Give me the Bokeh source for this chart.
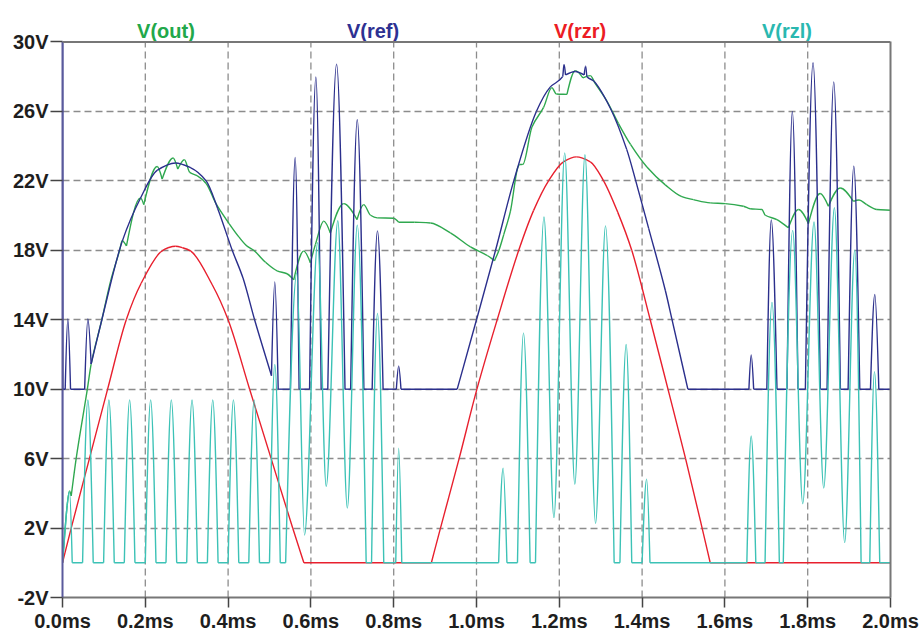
from bokeh.plotting import figure
from bokeh.models import Range1d, FixedTicker, PrintfTickFormatter, LinearAxis, Span
from bokeh.core.properties import value
from bokeh.embed import file_html
from bokeh.resources import INLINE

# ---------------- data (time in ms, voltage in V) ----------------
out_t = [0, 0.0113, 0.0169, 0.021, 0.033, 0.060, 0.0692, 0.095, 0.1159, 0.138,
         0.1441, 0.1545, 0.1883, 0.1963, 0.2286, 0.2407, 0.2672, 0.2784, 0.2945, 0.3074,
         0.325, 0.347, 0.3704, 0.4024, 0.4264, 0.4459, 0.4624, 0.4904, 0.5184, 0.5424,
         0.5585, 0.5826, 0.5987, 0.611, 0.631, 0.647, 0.679, 0.7114, 0.7275, 0.744,
         0.76, 0.80, 0.812, 0.85, 0.889, 0.937, 0.9855, 1.026, 1.0435, 1.0538,
         1.066, 1.082, 1.0996, 1.104, 1.112, 1.134, 1.162, 1.182, 1.193, 1.2185,
         1.2386, 1.257, 1.2747, 1.287, 1.3149, 1.343, 1.372, 1.4116, 1.456, 1.496,
         1.524, 1.5645, 1.6006, 1.645, 1.661, 1.6895, 1.6976, 1.7255, 1.7535, 1.7777,
         1.8018, 1.830, 1.85, 1.8783, 1.9104, 1.924, 1.9427, 1.967, 2.0]
out_v = [0, 3.3, 4.14, 3.85, 6.0, 10.0, 11.45, 14.0, 16.2, 18.0,
         18.55, 18.25, 21.02, 20.63, 22.83, 22.11, 23.32, 22.68, 23.22, 22.49,
         22.3, 21.85, 20.7, 19.54, 18.76, 18.24, 17.99, 17.31, 16.82, 16.65,
         16.3, 17.95, 17.29, 18.34, 19.68, 19.0, 20.69, 19.77, 20.63, 20.02,
         19.87, 19.85, 19.62, 19.62, 19.57, 19.0, 18.2, 17.7, 17.4, 17.97,
         18.92, 20.26, 22.75, 22.94, 22.95, 25.1, 26.23, 27.37, 27.0, 26.98,
         28.35, 27.93, 28.06, 27.6, 26.6, 25.3, 24.1, 22.8, 21.77, 21.09,
         20.92, 20.73, 20.69, 20.54, 20.39, 20.35, 20.02, 19.77, 19.3, 20.35,
         19.54, 21.27, 20.54, 21.59, 20.82, 20.9, 20.63, 20.35, 20.31]

ref_t = [0, 0, 0.0008, 0.0065, 0.0129, 0.0194, 0.0535, 0.0613, 0.0692, 0.095,
         0.144, 0.1883, 0.2286, 0.2728, 0.31, 0.347, 0.375, 0.41, 0.436, 0.464,
         0.5048, 0.5128, 0.521, 0.5504, 0.562, 0.5715, 0.5968, 0.612, 0.6248, 0.6408,
         0.662, 0.6824, 0.696, 0.712, 0.728, 0.748, 0.7608, 0.7744, 0.8064, 0.812,
         0.8176, 0.9534, 1.0, 1.046, 1.09, 1.1446, 1.178, 1.208, 1.2115, 1.215,
         1.2385, 1.26, 1.2635, 1.267, 1.283, 1.323, 1.363, 1.384, 1.416, 1.456,
         1.472, 1.5105, 1.658, 1.6635, 1.6695, 1.7013, 1.712, 1.7258, 1.75, 1.7629,
         1.7766, 1.7944, 1.8129, 1.8306, 1.8468, 1.8629, 1.879, 1.8976, 1.9113, 1.9258,
         1.9516, 1.9621, 1.9718, 2.0]
ref_v = [0, 30, 10, 10, 14.05, 10, 10, 14.05, 11.45, 14.0,
         18.5, 21.0, 22.6, 23.03, 22.75, 22.0, 20.4, 18.0, 16.4, 14.0,
         10.78, 16.18, 10, 10, 23.35, 10, 10, 27.98, 10, 10,
         28.72, 10, 10, 25.52, 10, 10, 19.12, 10, 10, 11.33,
         10, 10, 14.0, 18.0, 22.0, 26.0, 27.4, 28.0, 28.7, 28.1,
         28.3, 28.1, 28.6, 28.0, 27.75, 26.2, 23.8, 22.06, 19.25, 15.7,
         14.04, 10, 10, 11.97, 10, 10, 19.75, 10, 10, 26.0,
         10, 10, 28.8, 10, 10, 27.7, 10, 10, 22.85, 10,
         10, 15.45, 10, 10]

rzr_t = [0, 0.021, 0.065, 0.109, 0.154, 0.19, 0.237, 0.255, 0.273, 0.29,
         0.31, 0.362, 0.40, 0.452, 0.504, 0.556, 0.583, 0.891, 0.913, 0.958,
         1.001, 1.05, 1.102, 1.138, 1.174, 1.21, 1.241, 1.275, 1.307, 1.341,
         1.375, 1.4196, 1.4625, 1.505, 1.545, 1.5645, 2.0]
rzr_v = [0, 2, 6, 10, 14, 16.1, 17.9, 18.15, 18.23, 18.15,
         17.95, 16.0, 14.0, 10.0, 6.0, 2.0, 0, 0, 2, 6,
         10, 14, 18, 20.3, 22, 23.1, 23.38, 23.1, 22, 20.2,
         18, 14, 10, 6, 2, 0, 0]

rzl_t = [0, 0.017, 0.0235,
         0.0485, 0.0613, 0.0742, 0.0993, 0.1121, 0.1250, 0.1493, 0.1621, 0.1750,
         0.2000, 0.2129, 0.2258, 0.2500, 0.2629, 0.2758, 0.3000, 0.3129, 0.3258,
         0.3500, 0.3629, 0.3758, 0.4000, 0.4129, 0.4258, 0.4500, 0.4629, 0.4758,
         0.500, 0.5128, 0.526, 0.539, 0.566, 0.5845, 0.6165, 0.637, 0.665, 0.688,
         0.712, 0.7335, 0.7465, 0.7608, 0.776, 0.805, 0.812, 0.8195,
         1.0535, 1.0643, 1.0735, 1.099, 1.1135, 1.1295, 1.1425, 1.163, 1.187, 1.213,
         1.2375, 1.262, 1.2876, 1.3116, 1.3325, 1.3465, 1.3615, 1.375, 1.400, 1.411,
         1.419, 1.653, 1.6635, 1.6747, 1.697, 1.7137, 1.7315, 1.741, 1.7637, 1.788,
         1.8153, 1.8387, 1.8645, 1.8893, 1.9137, 1.929, 1.950, 1.9613, 1.974, 2.0]
rzl_v = [0, 4.1, 0,
         0, 9.38, 0, 0, 9.38, 0, 0, 9.38, 0,
         0, 9.38, 0, 0, 9.38, 0, 0, 9.38, 0,
         0, 9.38, 0, 0, 9.38, 0, 0, 9.38, 0,
         0, 11.42, 0, 0, 16.7, 1.6, 18.45, 4.4, 19.7, 3.15,
         19.45, 0, 0, 14.36, 0, 0, 6.6, 0,
         0, 5.45, 0, 0, 13.23, 0, 0, 19.92, 2.6, 23.61,
         4.52, 23.51, 2.28, 19.4, 0, 0, 12.57, 0, 0, 4.82,
         0, 0, 7.3, 0, 0, 15.0, 0, 0, 19.15, 3.41,
         19.64, 4.31, 20.45, 1.16, 18.0, 0, 0, 11.0, 0, 0]

x_ticks = [0.0, 0.2, 0.4, 0.6, 0.8, 1.0, 1.2, 1.4, 1.6, 1.8, 2.0]
y_ticks = [-2, 2, 6, 10, 14, 18, 22, 26, 30]
series_names = ["V(out)", "V(ref)", "V(rzr)", "V(rzl)"]
series_colors = ["#22a84a", "#2e3192", "#ec1c24", "#2ab8b0"]
line_colors = ["#2fa84f", "#2b2f8c", "#e8202e", "#3cc2b6"]

FONT = "Liberation Sans"
FRAME = "#777777"


def smooth_segments(t, v, smooth_min):
    """Cubic (Bezier) pieces between consecutive read points: flat tangent at
    peaks, sine-like corners where a trace leaves / meets a flat level."""
    n = len(t)
    sec = []
    for i in range(n - 1):
        dt = t[i + 1] - t[i]
        sec.append((v[i + 1] - v[i]) / dt if dt != 0 else None)

    def kind(i):
        if i == 0 or i == n - 1:
            return "end"
        sl, sr = sec[i - 1], sec[i]
        if sl is None or sr is None:
            return "end"
        if sl > 0 and sr < 0:
            return "max"
        if sl < 0 and sr > 0:
            return "min"
        if sl == 0 or sr == 0:
            return "flat"
        return "mono"

    kinds = [kind(i) for i in range(n)]
    ml = [0.0] * n
    mr = [0.0] * n
    for i in range(n):
        k = kinds[i]
        sl = sec[i - 1] if i > 0 else None
        sr = sec[i] if i < n - 1 else None
        if k == "end":
            ml[i] = sl if sl is not None else 0.0
            mr[i] = sr if sr is not None else 0.0
        elif k == "max" or (k == "min" and smooth_min):
            pass
        elif k in ("min", "flat"):
            if sl:
                ml[i] = sl * (1.5 if kinds[i - 1] in ("max", "min") else 1.0)
            if sr:
                mr[i] = sr * (1.5 if kinds[i + 1] in ("max", "min") else 1.0)
        else:
            m = 2 * sl * sr / (sl + sr)
            ml[i] = mr[i] = m
    seg = dict(x0=[], y0=[], x1=[], y1=[], cx0=[], cy0=[], cx1=[], cy1=[])
    for i in range(n - 1):
        dt = t[i + 1] - t[i]
        seg["x0"].append(t[i]); seg["y0"].append(v[i])
        seg["x1"].append(t[i + 1]); seg["y1"].append(v[i + 1])
        if dt == 0:
            seg["cx0"].append(t[i]); seg["cy0"].append(v[i])
            seg["cx1"].append(t[i + 1]); seg["cy1"].append(v[i + 1])
        else:
            seg["cx0"].append(t[i] + dt / 3); seg["cy0"].append(v[i] + mr[i] * dt / 3)
            seg["cx1"].append(t[i + 1] - dt / 3); seg["cy1"].append(v[i + 1] - ml[i + 1] * dt / 3)
    return seg


y_top = y_ticks[-1] + 2.39   # room for the trace names above the 30V frame line

p = figure(width=921, height=634,
           x_range=Range1d(x_ticks[0], x_ticks[-1]),
           y_range=Range1d(y_ticks[0], y_top),
           output_backend="svg", toolbar_location=None,
           min_border_left=62, min_border_right=31,
           min_border_top=0, min_border_bottom=35)

p.background_fill_color = "white"
p.border_fill_color = "white"
p.outline_line_color = None

# grid
p.xgrid.visible = False
p.ygrid.ticker = FixedTicker(ticks=y_ticks[1:-1])
p.ygrid.grid_line_color = "#8c8c8c"
p.ygrid.grid_line_width = 1.3
p.ygrid.grid_line_dash = "7 4"
inner_x = x_ticks[1:-1]
p.segment(x0=inner_x, y0=[y_ticks[0]] * len(inner_x), x1=inner_x,
          y1=[y_ticks[-1]] * len(inner_x), line_color="#8c8c8c",
          line_width=1.3, line_dash="7 4")

# axes
p.xaxis.ticker = FixedTicker(ticks=x_ticks)
p.yaxis.ticker = FixedTicker(ticks=y_ticks)
p.xaxis.formatter = PrintfTickFormatter(format="%.1fms")
p.yaxis.formatter = PrintfTickFormatter(format="%dV")
for ax in (p.xaxis, p.yaxis):
    ax.axis_line_color = FRAME
    ax.axis_line_width = 2
    ax.minor_tick_line_color = None
    ax.major_tick_line_color = "#444444"
    ax.major_tick_line_width = 1.5
    ax.major_tick_in = 0
    ax.major_label_text_font = FONT
    ax.major_label_text_font_style = "bold"
    ax.major_label_text_font_size = "20px"
    ax.major_label_text_color = "#1e1e1e"
p.yaxis.bounds = (y_ticks[0], y_ticks[-1])
p.yaxis.axis_line_color = "#5a5a9c"
p.xaxis.major_tick_out = 10
p.xaxis.major_label_standoff = 2
p.yaxis.major_tick_out = 12
p.yaxis.major_label_standoff = 2

right = LinearAxis(ticker=FixedTicker(ticks=[]), bounds=(y_ticks[0], y_ticks[-1]),
                   axis_line_color=FRAME, axis_line_width=2,
                   major_tick_line_color=None, minor_tick_line_color=None,
                   major_label_text_font_size="0px")
p.add_layout(right, "right")
p.add_layout(Span(location=y_ticks[-1], dimension="width",
                  line_color=FRAME, line_width=2))

# traces (LTspice draw order)
series = [(out_t, out_v, False), (ref_t, ref_v, False),
          (rzr_t, rzr_v, False), (rzl_t, rzl_v, True)]
for (tt, vv, sm), col in zip(series, line_colors):
    seg = smooth_segments(tt, vv, sm)
    p.bezier(line_color=col, line_width=1.4, **seg)

# trace names above the plot
span = x_ticks[-1] - x_ticks[0]
name_x = [x_ticks[0] + span * (i + 0.5) / len(series_names) for i in range(len(series_names))]
p.text(x=name_x, y=[y_ticks[-1] + 0.61] * len(series_names), text=series_names,
       text_color=series_colors, text_align="center", text_baseline="alphabetic",
       text_font=value(FONT), text_font_style="bold", text_font_size="20px")

open("out.html", "w").write(file_html(p, INLINE))
